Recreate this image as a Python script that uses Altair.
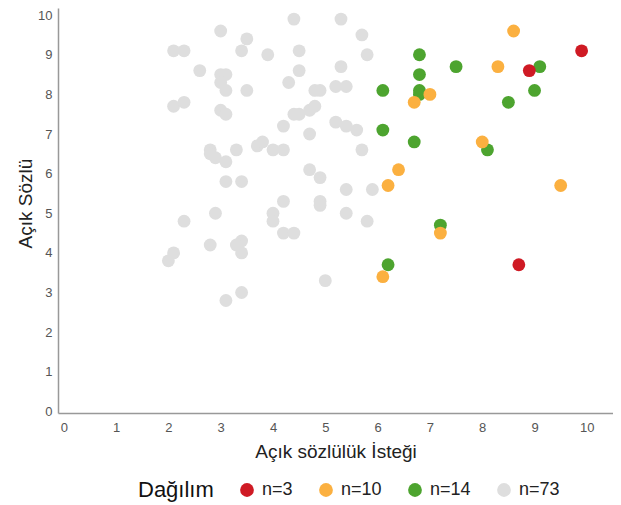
import altair as alt
import pandas as pd

gray_x = [2.1, 2.3, 3.0, 3.5, 3.4, 3.9, 4.4, 5.3, 5.7, 5.8, 4.5, 2.6, 3.0, 3.1, 3.0, 3.1, 3.5, 4.5, 4.3,
          5.3, 5.2, 5.4, 4.8, 4.9, 2.1, 2.3, 3.0, 3.1, 4.4, 4.5, 4.7, 4.8, 4.2, 5.2, 5.4, 5.6, 4.7, 3.7,
          3.8, 4.0, 4.2, 2.8, 2.8, 2.9, 3.3, 3.1, 5.7, 4.7, 4.9, 3.1, 3.4, 5.4, 5.9, 4.2, 4.9, 4.9, 5.4,
          5.8, 2.9, 2.3, 4.0, 4.0, 4.2, 4.4, 3.4, 3.3, 3.4, 2.8, 2.1, 2.0, 5.0, 3.4, 3.1]
gray_y = [9.1, 9.1, 9.6, 9.4, 9.1, 9.0, 9.9, 9.9, 9.5, 9.0, 9.1, 8.6, 8.5, 8.5, 8.3, 8.1, 8.1, 8.6, 8.3,
          8.7, 8.2, 8.2, 8.1, 8.1, 7.7, 7.8, 7.6, 7.5, 7.5, 7.5, 7.6, 7.7, 7.2, 7.3, 7.2, 7.1, 7.0, 6.7,
          6.8, 6.6, 6.6, 6.6, 6.5, 6.4, 6.6, 6.3, 6.6, 6.1, 5.9, 5.8, 5.8, 5.6, 5.6, 5.3, 5.3, 5.2, 5.0,
          4.8, 5.0, 4.8, 5.0, 4.8, 4.5, 4.5, 4.3, 4.2, 4.0, 4.2, 4.0, 3.8, 3.3, 3.0, 2.8]

green_x = [6.8, 7.5, 9.1, 6.8, 6.1, 6.8, 6.8, 9.0, 8.5, 6.1, 6.7, 8.1, 7.2, 6.2]
green_y = [9.0, 8.7, 8.7, 8.5, 8.1, 8.1, 8.0, 8.1, 7.8, 7.1, 6.8, 6.6, 4.7, 3.7]

orange_x = [8.6, 8.3, 6.7, 7.0, 8.0, 6.4, 6.2, 9.5, 7.2, 6.1]
orange_y = [9.6, 8.7, 7.8, 8.0, 6.8, 6.1, 5.7, 5.7, 4.5, 3.4]

red_x = [8.9, 9.9, 8.7]
red_y = [8.6, 9.1, 3.7]

groups = ["n=3", "n=10", "n=14", "n=73"]
colors = ["#cf1a24", "#fbb040", "#4da42f", "#dedede"]

rows = []
for xs, ys, g in [(gray_x, gray_y, "n=73"), (green_x, green_y, "n=14"),
                  (orange_x, orange_y, "n=10"), (red_x, red_y, "n=3")]:
    for a, b in zip(xs, ys):
        rows.append({"x": a, "y": b, "g": g})
df = pd.DataFrame(rows)
df["ord"] = range(len(df))

font = "Liberation Sans"

chart = alt.Chart(df).mark_circle(size=165, opacity=1).encode(
    x=alt.X("x:Q", scale=alt.Scale(domain=[-0.11, 10.5], nice=False, zero=False),
            axis=alt.Axis(title="Açık sözlülük İsteği", values=list(range(11)), grid=False,
                          ticks=False, labelFontSize=13, labelColor="#555", labelPadding=8,
                          titleFontSize=19, titleColor="#222", titleFontWeight="normal",
                          titlePadding=8, domainColor="#999", domainWidth=1.5, titleFont=font,
                          labelFont=font)),
    y=alt.Y("y:Q", scale=alt.Scale(domain=[-0.04, 10.18], nice=False, zero=False),
            axis=alt.Axis(title="Açık Sözlü", values=list(range(11)), grid=False,
                          ticks=False, labelFontSize=13, labelColor="#555", labelPadding=6,
                          titleFontSize=19, titleColor="#222", titleFontWeight="normal",
                          titlePadding=2, titleY=195, domainColor="#999", domainWidth=1.5,
                          titleFont=font, labelFont=font)),
    color=alt.Color("g:N", scale=alt.Scale(domain=groups, range=colors),
                    legend=alt.Legend(title="Dağılım", orient="none", direction="horizontal",
                                      legendX=80, legendY=473, titleOrient="left",
                                      titleFontSize=22, titleFontWeight="normal", titleColor="#111",
                                      labelFontSize=18, labelColor="#222", symbolType="circle",
                                      symbolSize=190, symbolStrokeWidth=0, symbolOpacity=1,
                                      labelOffset=6, columnPadding=24, titlePadding=24,
                                      titleFont=font, labelFont=font, titleBaseline="middle")),
    order=alt.Order("ord:Q"),
).properties(
    width=555, height=405,
    autosize=alt.AutoSizeParams(type="none"),
    padding={"left": 50, "top": 0, "right": 0, "bottom": 90},
).configure_view(stroke=None)

chart.save("out.html", embed_options={"renderer": "svg", "actions": False})
